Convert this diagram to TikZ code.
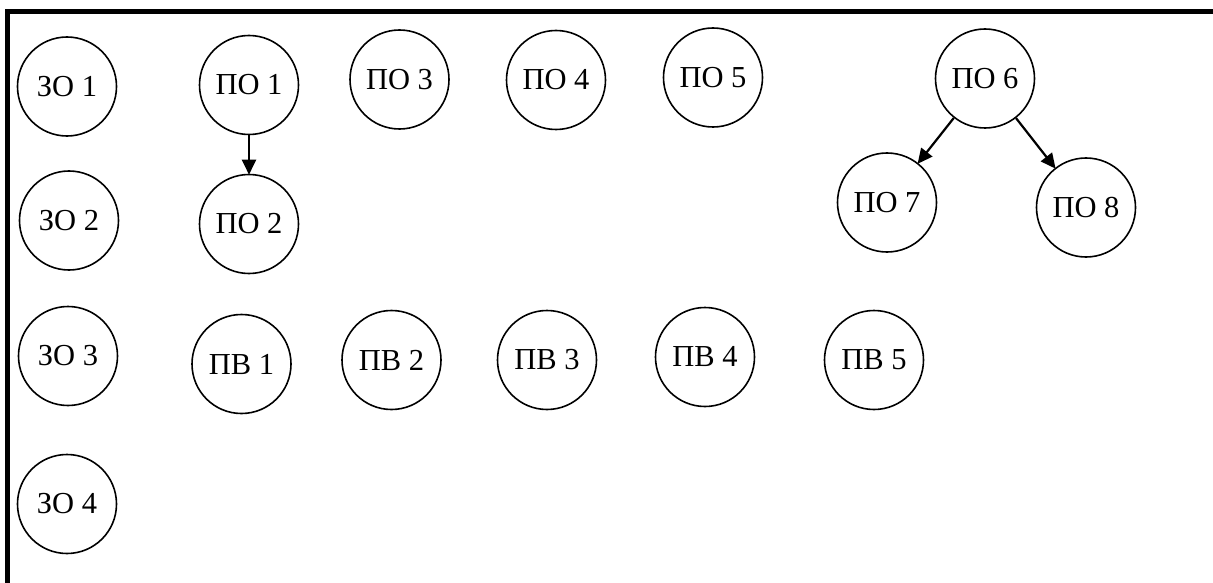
\documentclass[tikz,border=0pt]{standalone}
\usepackage{fontspec}
\setmainfont{Liberation Serif}
\usetikzlibrary{arrows.meta}
\tikzset{
  bub/.style={circle, draw, line width=1.6pt, minimum size=99pt, inner sep=0pt,
    font=\fontsize{30.5}{30.5}\selectfont},
  arr/.style={line width=2.2pt, -{Triangle[length=15pt,width=14pt]}, shorten >=-1pt},
  frameline/.style={line width=5pt, line join=miter}
}
\begin{document}
\begin{tikzpicture}[x=1pt,y=-1pt]
\useasboundingbox (0,0) rectangle (1213,583);
\draw[frameline] (7.5,583) -- (7.5,11.5) -- (1213,11.5);
% column ZO
\node[bub] (zo1) at (67,86.5) {ЗО 1};
\node[bub] (zo2) at (69,220.5) {ЗО 2};
\node[bub] (zo3) at (68,356) {ЗО 3};
\node[bub] (zo4) at (67,504) {ЗО 4};
% PO
\node[bub] (po1) at (249,85) {ПО 1};
\node[bub] (po2) at (249,224) {ПО 2};
\node[bub] (po3) at (399.5,79.5) {ПО 3};
\node[bub] (po4) at (556,80) {ПО 4};
\node[bub] (po5) at (713,77.5) {ПО 5};
\node[bub] (po6) at (985,78.5) {ПО 6};
\node[bub] (po7) at (887,202.5) {ПО 7};
\node[bub] (po8) at (1086,207.5) {ПО 8};
% PV
\node[bub] (pv1) at (241.5,364) {ПВ 1};
\node[bub] (pv2) at (391.5,360) {ПВ 2};
\node[bub] (pv3) at (547,360) {ПВ 3};
\node[bub] (pv4) at (705,357) {ПВ 4};
\node[bub] (pv5) at (874,360) {ПВ 5};
% arrows
\draw[arr] (po1) -- (po2);
\draw[arr] (po6) -- (po7);
\draw[arr] (po6) -- (po8);
\end{tikzpicture}
\end{document}
